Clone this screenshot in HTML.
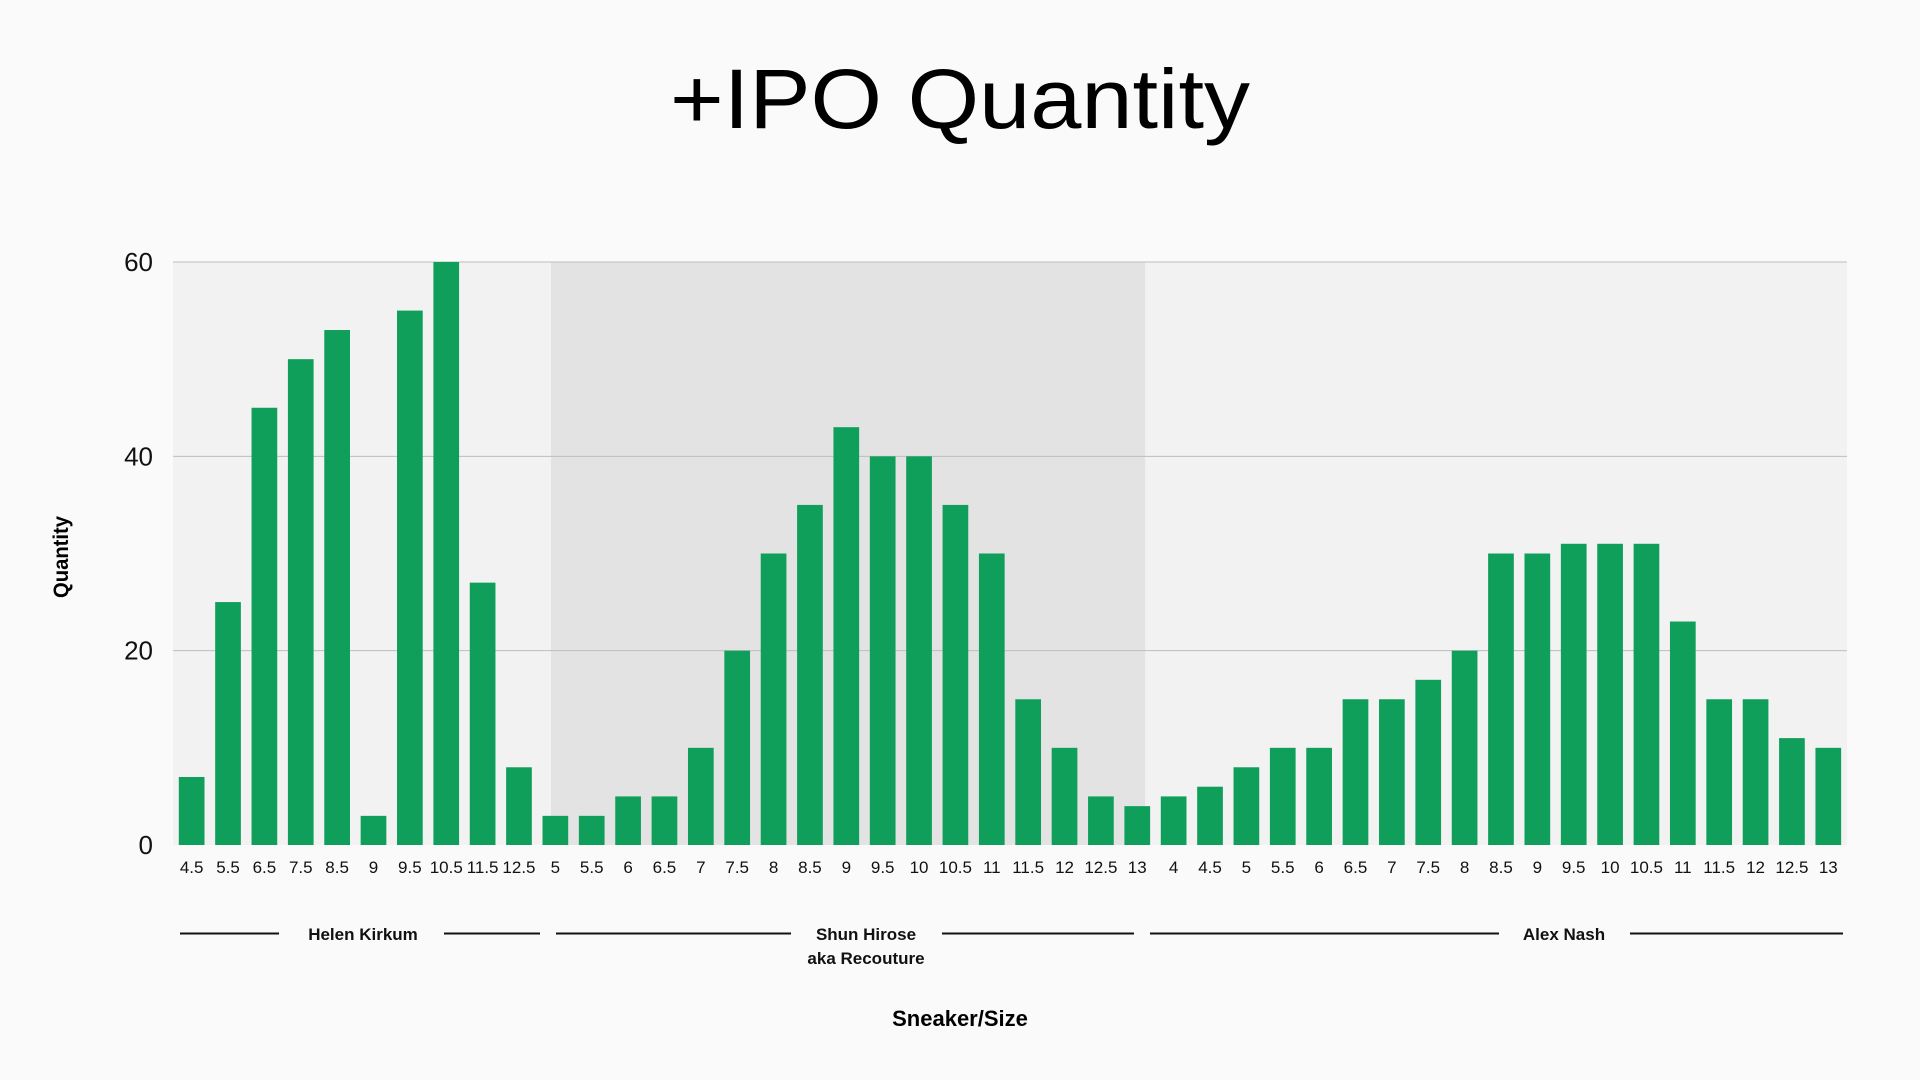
<!DOCTYPE html>
<html><head><meta charset="utf-8"><style>
html,body{margin:0;padding:0;background:#fafafa;}
svg{display:block;font-family:"Liberation Sans",sans-serif;}
</style></head><body>
<svg id="chart" width="1920" height="1080" viewBox="0 0 1920 1080">
<rect x="0" y="0" width="1920" height="1080" fill="#fafafa"/>
<text x="960" y="128" text-anchor="middle" font-size="84" textLength="580" lengthAdjust="spacingAndGlyphs" fill="#000">+IPO Quantity</text>
<g id="plot"></g>
<text transform="translate(68,557) rotate(-90)" text-anchor="middle" font-size="21" font-weight="bold" textLength="82" lengthAdjust="spacingAndGlyphs" fill="#000">Quantity</text>
<text x="960" y="1026" text-anchor="middle" font-size="22" font-weight="bold" fill="#000">Sneaker/Size</text>
</svg>
<script>
const helenSizes = ["4.5","5.5","6.5","7.5","8.5","9","9.5","10.5","11.5","12.5"];
const helenValues = [7,25,45,50,53,3,55,60,27,8];
const shunSizes = ["5","5.5","6","6.5","7","7.5","8","8.5","9","9.5","10","10.5","11","11.5","12","12.5","13"];
const shunValues = [3,3,5,5,10,20,30,35,43,40,40,35,30,15,10,5,4];
const alexSizes = ["4","4.5","5","5.5","6","6.5","7","7.5","8","8.5","9","9.5","10","10.5","11","11.5","12","12.5","13"];
const alexValues = [5,6,8,10,10,15,15,17,20,30,30,31,31,31,23,15,15,11,10];
const yTicks = [0,20,40,60];

const NS = "http://www.w3.org/2000/svg";
const plot = document.getElementById('plot');
const plotLeft = 173, plotRight = 1847, plotTop = 262, plotBottom = 845, yMax = 60;
const firstBar = 178.8, pitch = 36.37, barW = 25.7;
function yScale(v){ return plotBottom - (v / yMax) * (plotBottom - plotTop); }
function xIndex(i){ return firstBar + i * pitch; }
function mk(tag, attrs){ const e = document.createElementNS(NS, tag); for (const k in attrs) e.setAttribute(k, attrs[k]); plot.appendChild(e); return e; }

const groups = [
  {name:"helen-kirkum", sizes:helenSizes, values:helenValues},
  {name:"shun-hirose", sizes:shunSizes, values:shunValues},
  {name:"alex-nash", sizes:alexSizes, values:alexValues}
];

let bg = mk('rect', {x:plotLeft, y:plotTop, width:plotRight-plotLeft, height:plotBottom-plotTop, fill:'#f2f2f2'});


const shunStart = helenSizes.length, shunEnd = helenSizes.length + shunSizes.length;
const bandX0 = xIndex(shunStart) + 8.5, bandX1 = xIndex(shunEnd - 1) + barW - 5;
let sh = mk('rect', {x:bandX0, y:plotTop, width:bandX1 - bandX0, height:plotBottom-plotTop, fill:'#e3e3e3'});



yTicks.forEach(t => {
  if (t > 0) {
    let g = mk('line', {x1:plotLeft, x2:plotRight, y1:yScale(t), y2:yScale(t), stroke:'#bdbdbd', 'stroke-width':1});
    
    
  }
  let l = mk('text', {x:153, y:yScale(t)+9, 'text-anchor':'end', 'font-size':26, fill:'#111'});
  l.textContent = t;
  
  
});

let idx = 0;
groups.forEach(g => {
  g.sizes.forEach((s, j) => {
    const v = g.values[j];
    const x = xIndex(idx);
    let b = mk('rect', {x:x, y:yScale(v), width:barW, height:plotBottom - yScale(v), fill:'#0f9f5a'});
    
    
    let tl = mk('text', {x:x + barW/2, y:873, 'text-anchor':'middle', 'font-size':17, fill:'#111'});
    tl.textContent = s;
    
    
    idx++;
  });
});

const groupLabels = [
  {name:'helen-kirkum', lines:['Helen Kirkum'], segs:[[180,279],[444,540]], cx:363},
  {name:'shun-hirose', lines:['Shun Hirose','aka Recouture'], segs:[[556,791],[942,1134]], cx:866},
  {name:'alex-nash', lines:['Alex Nash'], segs:[[1150,1499],[1630,1843]], cx:1564}
];
groupLabels.forEach(g => {
  g.segs.forEach(sg => {
    let ln = mk('line', {x1:sg[0], x2:sg[1], y1:933.5, y2:933.5, stroke:'#111', 'stroke-width':2});
    
    
  });
  g.lines.forEach((t, k) => {
    let tx = mk('text', {x:g.cx, y:940 + k*24, 'text-anchor':'middle', 'font-size':17, 'font-weight':'bold', fill:'#111'});
    tx.textContent = t;
    
    
  });
});
</script>
</body></html>
